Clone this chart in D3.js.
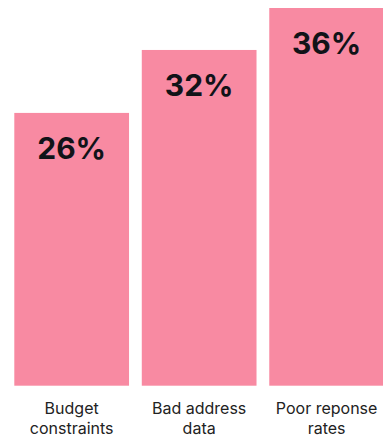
<!DOCTYPE html>
<html>
<head>
<meta charset="utf-8">
<script src="https://cdn.jsdelivr.net/npm/d3@7"></script>
<style>
  body { margin: 0; background: #fff; }
  svg { display: block; }
</style>
</head>
<body>
<div id="chart"></div>
<script>
// data
const categories = ["Budget constraints", "Bad address data", "Poor reponse rates"]
const labelLines = [["Budget", "constraints"], ["Bad address", "data"], ["Poor reponse", "rates"]]
const values = [26, 32, 36]

const width = 383
const height = 438

const svg = d3.select("#chart")
    .append("svg")
    .attr("width", width)
    .attr("height", height)

// x: band scale for the three bars
const x = d3.scaleBand()
    .domain(categories)
    .range([14.3, 384])
    .paddingInner(0.1)
    .paddingOuter(0)

// y: linear, top bar reaches near the top
const y = d3.scaleLinear()
    .domain([0, 36])
    .range([385.7, 8])

// bars
svg.selectAll("rect.bar")
    .data(values)
    .join("rect")
    .attr("class", "bar")
    .attr("x", (d, i) => x(categories[i]))
    .attr("y", d => y(d))
    .attr("width", x.bandwidth())
    .attr("height", d => y(0) - y(d))
    .style("fill", "#f88aa2")

// value labels inside the bars
svg.selectAll("text.value")
    .data(values)
    .join("text")
    .attr("class", "value")
    .attr("x", (d, i) => x(categories[i]) + x.bandwidth() / 2)
    .attr("y", d => y(d) + 46)
    .attr("text-anchor", "middle")
    .style("font-family", "Inter, 'Noto Sans', sans-serif")
    .style("font-weight", 700)
    .style("font-size", "30px")
    .style("fill", "#111318")
    .text(d => d + "%")

// category labels below
const cat = svg.selectAll("text.cat")
    .data(labelLines)
    .join("text")
    .attr("class", "cat")
    .attr("x", (d, i) => x(categories[i]) + x.bandwidth() / 2)
    .attr("y", 414.3)
    .attr("text-anchor", "middle")
    .style("font-family", "Inter, 'Noto Sans', sans-serif")
    .style("font-size", "16px")
    .style("fill", "#222")

cat.selectAll("tspan")
    .data(d => d)
    .join("tspan")
    .attr("x", function () { return d3.select(this.parentNode).attr("x") })
    .attr("dy", (d, i) => i === 0 ? 0 : 20)
    .text(d => d)
</script>
</body>
</html>
